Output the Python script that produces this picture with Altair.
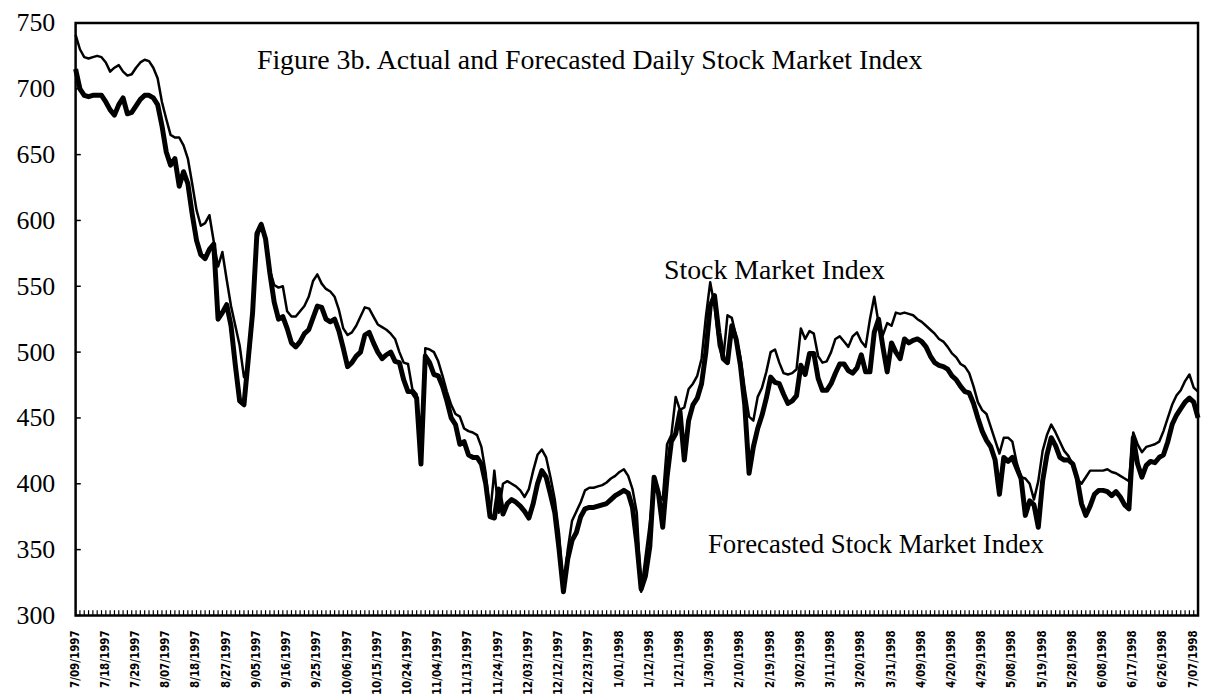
import altair as alt
import pandas as pd

# Actual daily stock market index (thin line), one value per trading day from 7/09/1997
actual = [
    741, 730, 724, 723, 724, 725, 724, 720, 713, 716,
    718, 713, 710, 711, 716, 720, 722, 721, 716, 708,
    690, 677, 665, 663, 663, 657, 647, 628, 608, 596,
    598, 604, 584, 565, 576, 555, 535, 520, 505, 481,
    490, 525, 585, 598, 585, 562, 551, 549, 550, 531,
    527, 527, 531, 535, 542, 554, 559, 552, 548, 546,
    542, 532, 518, 513, 515, 520, 527, 534, 533, 527,
    521, 519, 517, 514, 510, 500, 492, 491, 472, 468,
    425, 503, 502, 500, 493, 482, 470, 460, 453, 451,
    442, 440, 439, 437, 428, 408, 376, 410, 378, 400,
    402, 400, 398, 395, 390, 396, 410, 422, 426, 420,
    405, 388, 362, 318, 350, 372, 379, 386, 395, 397,
    397, 398, 399, 401, 404, 406, 409, 411, 406, 396,
    378, 318, 344, 370, 402, 392, 388, 430, 437, 466,
    456, 458, 472, 476, 482, 495, 527, 553, 535, 505,
    494, 528, 526, 512, 496, 472, 451, 448, 466, 473,
    485, 500, 502, 492, 484, 483, 484, 487, 518, 510,
    516, 514, 497, 492, 493, 500, 510, 512, 508, 504,
    512, 515, 508, 504, 525, 542, 522, 513, 522, 520,
    530, 529, 530, 529, 528, 525, 523, 520, 517, 514,
    510, 508, 504, 499, 496, 491, 489, 484, 474, 462,
    456, 453, 443, 433, 423, 435, 435, 432, 416, 405,
    404, 400, 388, 402, 425, 437, 445, 439, 432, 425,
    421, 414, 404, 400, 405, 410, 410, 410, 410, 411,
    409, 408, 406, 404, 402, 439, 430, 424, 428, 429,
    430, 432, 440, 450, 460, 467, 471, 478, 483, 473,
    470,
]

# Forecasted daily stock market index (thick line)
forecast = [
    715, 700, 695, 694, 695, 695, 695, 690, 684, 680,
    688, 693, 681, 682, 687, 692, 695, 695, 693, 688,
    672, 652, 642, 647, 626, 637, 628, 605, 585, 574,
    571, 578, 582, 525, 530, 536, 520, 490, 463, 460,
    495, 530, 590, 597, 586, 560, 538, 525, 527, 518,
    507, 504, 508, 514, 517, 526, 535, 534, 525, 523,
    525, 516, 503, 489, 492, 497, 500, 513, 515, 507,
    500, 495, 498, 500, 493, 492, 479, 470, 470, 465,
    415, 497, 492, 483, 482, 474, 463, 450, 445, 430,
    432, 422, 420, 420, 415, 400, 375, 374, 396, 377,
    385, 388, 386, 383, 379, 374, 385, 400, 410, 405,
    392, 378, 350, 318, 343, 357, 363, 375, 381, 382,
    382, 383, 384, 385, 388, 391, 393, 395, 393, 382,
    355, 320, 330, 352, 405, 393, 367, 405, 432, 438,
    455, 418, 448, 460, 465, 476, 500, 535, 543, 515,
    495, 492, 520, 510, 490, 460, 408, 428, 442, 452,
    465, 481, 477, 476, 468, 461, 463, 467, 490, 483,
    499, 499, 480, 471, 471, 476, 484, 491, 491, 486,
    484, 488, 498, 485, 485, 515, 525, 504, 485, 507,
    500, 495, 510, 507, 509, 510, 508, 504, 497, 492,
    490, 489, 487, 482, 479, 474, 470, 469, 461, 450,
    440, 433, 428, 418, 392, 420, 417, 420, 412, 404,
    376, 387, 384, 367, 402, 422, 435, 429, 420, 418,
    418, 415, 404, 385, 376, 383, 392, 395, 395, 394,
    391, 394, 390, 384, 381, 435, 415, 405, 414, 417,
    416, 420, 422, 432, 445, 452, 457, 462, 465, 462,
    450,
]

# Date labels shown on the x axis (every 7th trading day)
tick_labels = [
    "7/09/1997", "7/18/1997", "7/29/1997", "8/07/1997", "8/18/1997",
    "8/27/1997", "9/05/1997", "9/16/1997", "9/25/1997", "10/06/1997",
    "10/15/1997", "10/24/1997", "11/04/1997", "11/13/1997", "11/24/1997",
    "12/03/1997", "12/12/1997", "12/23/1997", "1/01/1998", "1/12/1998",
    "1/21/1998", "1/30/1998", "2/10/1998", "2/19/1998", "3/02/1998",
    "3/11/1998", "3/20/1998", "3/31/1998", "4/09/1998", "4/20/1998",
    "4/29/1998", "5/08/1998", "5/19/1998", "5/28/1998", "6/08/1998",
    "6/17/1998", "6/26/1998", "7/07/1998",
]
label_step = 7
y_ticks = [300, 350, 400, 450, 500, 550, 600, 650, 700, 750]

title_text = "Figure 3b. Actual and Forecasted Daily Stock Market Index"
actual_label = "Stock Market Index"
forecast_label = "Forecasted Stock Market Index"

W, H = 1129, 596
SERIF = "Liberation Serif"
NARROW = "Liberation Sans Narrow, DejaVu Sans Condensed, sans-serif"

days = list(range(len(actual)))
df = pd.DataFrame({"day": days, "actual": actual, "forecast": forecast})
ydf = pd.DataFrame({"v": y_ticks})
xlab_df = pd.DataFrame({
    "day": [label_step * i for i in range(len(tick_labels))],
    "label": tick_labels,
})

x_scale = alt.Scale(domain=[0, len(actual) - 1], nice=False, zero=False)
y_scale = alt.Scale(domain=[300, 750], nice=False, zero=False)

y_axis = alt.Axis(
    values=y_ticks,
    labelFont=SERIF,
    labelFontSize=26,
    labelColor="black",
    labelPadding=21,
    tickSize=0,
    domain=False,
    grid=False,
    title=None,
)

base = alt.Chart(df)

thick = base.mark_line(color="black", strokeWidth=5, strokeJoin="round").encode(
    x=alt.X("day:Q", scale=x_scale, axis=None),
    y=alt.Y("forecast:Q", scale=y_scale, axis=y_axis),
)
thin = base.mark_line(color="black", strokeWidth=2.5, strokeJoin="round").encode(
    x=alt.X("day:Q", scale=x_scale),
    y=alt.Y("actual:Q", scale=y_scale),
)
xticks = base.mark_rule(color="black", strokeWidth=1.2).encode(
    x=alt.X("day:Q", scale=x_scale),
    y=alt.datum(300),
    y2=alt.datum(304),
)
yticks = alt.Chart(ydf).mark_rule(color="black", strokeWidth=1.5).encode(
    y=alt.Y("v:Q", scale=y_scale),
    x=alt.datum(0),
    x2=alt.datum(1.2),
)
xlabels = alt.Chart(xlab_df).mark_text(
    angle=270, align="right", baseline="middle", font=NARROW,
    fontSize=11.5, fontWeight="bold", color="black",
).encode(
    x=alt.X("day:Q", scale=x_scale),
    y=alt.value(H + 15),
    text="label:N",
)

def label(text, cx, by, size):
    return alt.Chart(pd.DataFrame({"t": [text]})).mark_text(
        font=SERIF, fontSize=size, color="black", align="center", baseline="alphabetic"
    ).encode(text="t:N", x=alt.value(cx), y=alt.value(by))

title = label(title_text, 594 - 77, 65 - 19, 28)
lab_a = label(actual_label, 780 - 77, 277 - 19, 28)
lab_f = label(forecast_label, 882 - 77, 552 - 19, 27)

chart = alt.layer(thick, thin, xticks, yticks, xlabels, title, lab_a, lab_f).properties(
    width=W,
    height=H,
    background="white",
    padding={"left": 8, "top": 0, "right": 2, "bottom": 0},
).configure_view(stroke="black", strokeWidth=2.5)

chart.save("out.html", embed_options={"renderer": "svg", "actions": False})
